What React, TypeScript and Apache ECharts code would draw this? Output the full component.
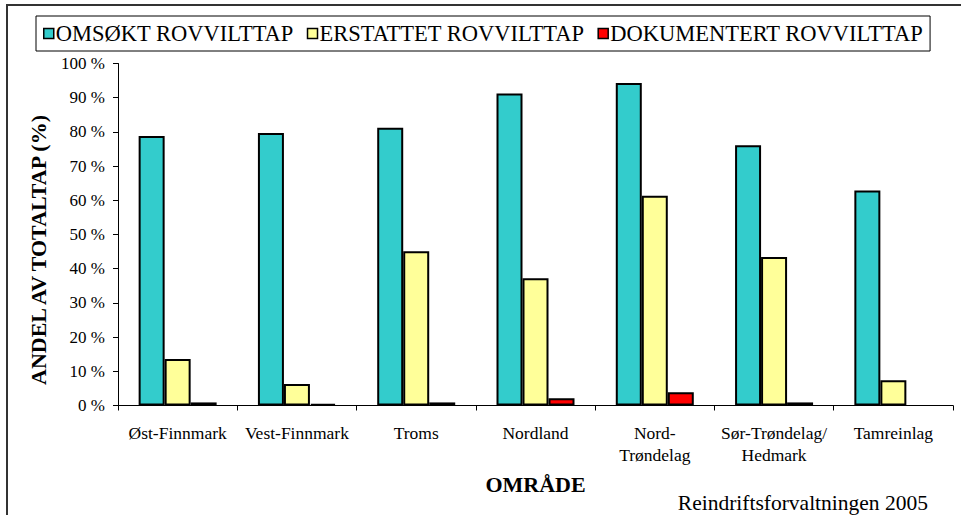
import React, { useEffect, useRef } from "react";
import * as echarts from "echarts";

const categories = [
  "Øst-Finnmark",
  "Vest-Finnmark",
  "Troms",
  "Nordland",
  "Nord-\nTrøndelag",
  "Sør-Trøndelag/\nHedmark",
  "Tamreinlag",
];
const seriesNames = ["OMSØKT ROVVILTTAP", "ERSTATTET ROVVILTTAP", "DOKUMENTERT ROVVILTTAP"];
const omsokt = [78.8, 79.7, 81.2, 91.2, 94.3, 76.1, 62.9];
const erstattet = [13.6, 6.3, 45.1, 37.2, 61.3, 43.4, 7.4];
const dokumentert = [0.9, 0.5, 0.9, 2.1, 3.9, 0.9, 0];
const colors = ["#33CCCC", "#FFFF99", "#FF0000"];
const yAxisTitle = "ANDEL AV TOTALTAP (%)";
const xAxisTitle = "OMRÅDE";
const sourceText = "Reindriftsforvaltningen 2005";

const FONT = "'Liberation Serif', 'Times New Roman', serif";

export default function App() {
  const ref = useRef<HTMLDivElement>(null);
  useEffect(() => {
    if (!ref.current) return;
    const chart = echarts.init(ref.current, null, { renderer: "svg" });
    const values = [omsokt, erstattet, dokumentert];
    chart.setOption({
      animation: false,
      backgroundColor: "#ffffff",
      textStyle: { fontFamily: FONT, color: "#000" },
      legend: {
        left: 36,
        top: 16,
        padding: [6, 7, 6, 7],
        borderColor: "#000",
        borderWidth: 1,
        icon: "rect",
        itemWidth: 10,
        itemHeight: 10,
        itemGap: 13,
        itemStyle: { borderWidth: 1.5, borderColor: "#000" },
        textStyle: { fontFamily: FONT, fontSize: 22.5, color: "#000", padding: [0, 0, 0, -3] },
        data: seriesNames,
      },
      grid: { left: 118, right: 8, top: 63.5, bottom: 109.5, containLabel: false },
      xAxis: {
        type: "category",
        data: categories,
        name: xAxisTitle,
        nameLocation: "middle",
        nameGap: 68,
        nameTextStyle: { fontFamily: FONT, fontSize: 22, fontWeight: "bold", color: "#000" },
        axisLine: { lineStyle: { color: "#000", width: 1 } },
        axisTick: { show: true, length: 5, lineStyle: { color: "#000" } },
        axisLabel: {
          fontFamily: FONT,
          fontSize: 17.5,
          color: "#000",
          margin: 16,
          lineHeight: 22,
          interval: 0,
        },
      },
      yAxis: {
        type: "value",
        min: 0,
        max: 100,
        interval: 10,
        axisLine: { show: true, lineStyle: { color: "#000", width: 1 } },
        axisTick: { show: true, length: 5, lineStyle: { color: "#000" } },
        splitLine: { show: false },
        axisLabel: {
          fontFamily: FONT,
          fontSize: 17,
          color: "#000",
          margin: 13,
          formatter: "{value} %",
        },
      },
      series: seriesNames.map((name, i) => ({
        name,
        type: "bar",
        data: values[i].map((v) => (v === 0 ? null : v)),
        barWidth: 26,
        barGap: "0%",
        itemStyle: { color: colors[i], borderColor: "#000", borderWidth: 2 },
      })),
      graphic: [
        {
          type: "rect",
          shape: { x: 7, y: 5, width: 1100, height: 700 },
          style: { fill: "none", stroke: "#333", lineWidth: 2 },
          silent: true,
        },
        {
          type: "text",
          x: 38,
          y: 250,
          rotation: Math.PI / 2,
          style: {
            text: yAxisTitle,
            fontFamily: FONT,
            fontSize: 22,
            fontWeight: "bold",
            fill: "#000",
            textAlign: "center",
            textVerticalAlign: "middle",
          },
        },
        {
          type: "text",
          x: 928,
          y: 503,
          style: {
            text: sourceText,
            fontFamily: FONT,
            fontSize: 21.5,
            fill: "#000",
            textAlign: "right",
            textVerticalAlign: "middle",
          },
        },
      ],
    });
    return () => chart.dispose();
  }, []);
  return (
    <div
      ref={ref}
      style={{ position: "fixed", left: 0, top: 0, width: 961, height: 515 }}
    />
  );
}
